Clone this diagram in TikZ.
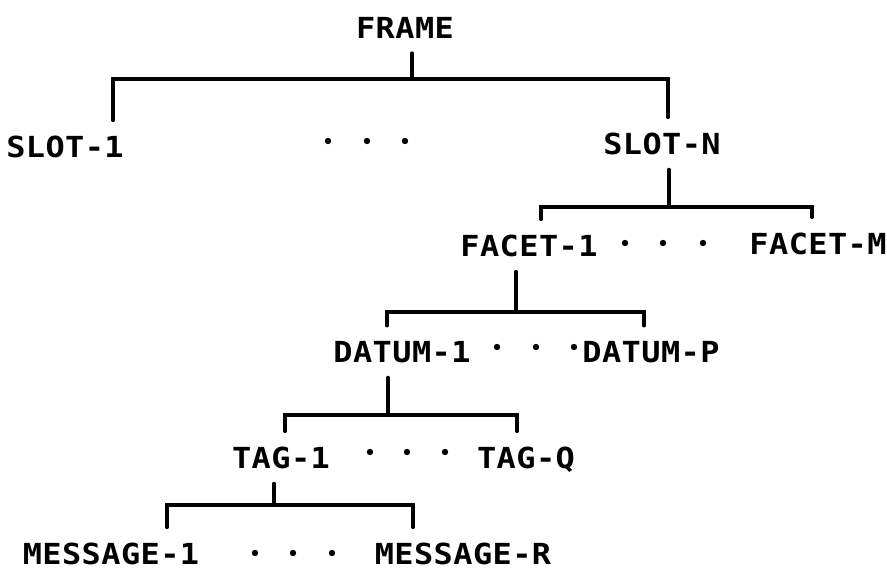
\documentclass[tikz,border=0pt]{standalone}
\usepackage{fontspec}
\newfontfamily\plotfont[LetterSpace=1.5,FakeStretch=1.1]{DejaVu Sans Mono}
\begin{document}
\begin{tikzpicture}[x=1pt,y=-1pt,
  lbl/.style={anchor=base,inner sep=0pt,outer sep=0pt,
    font=\plotfont\bfseries\fontsize{29}{31}\selectfont},
  link/.style={line width=3.2pt,line cap=round,line join=miter},
  ellip/.style={fill=black}]
\useasboundingbox (0,0) rectangle (887,571);

% tree labels
\node[lbl] (frame)   at (405,38)  {FRAME};
\node[lbl] (slot1)   at (65,157)  {SLOT-1};
\node[lbl] (slotn)   at (662,154) {SLOT-N};
\node[lbl] (facet1)  at (529,256) {FACET-1};
\node[lbl] (facetm)  at (818,254) {FACET-M};
\node[lbl] (datum1)  at (402,362) {DATUM-1};
\node[lbl] (datump)  at (651,362) {DATUM-P};
\node[lbl] (tag1)    at (281,468) {TAG-1};
\node[lbl] (tagq)    at (526,468) {TAG-Q};
\node[lbl] (msg1)    at (111,564) {MESSAGE-1};
\node[lbl] (msgr)    at (463,564) {MESSAGE-R};

% junctions on each bus line
\coordinate (b1) at (412,79);
\coordinate (b2) at (669,207);
\coordinate (b3) at (516,312);
\coordinate (b4) at (388,415);
\coordinate (b5) at (274,505);

% stems leave 15pt below a label, drops stop 15pt above one
\tikzset{
  below of label/.style={yshift=-15pt},
  above of label/.style={yshift=15pt}}

% FRAME -> slots
\draw[link] ([below of label,xshift=7pt]frame.south) -- (b1);
\draw[link] ([above of label,xshift=48pt]slot1.north) |- (b1)
            -| ([above of label,xshift=6pt]slotn.north);
% SLOT-N -> facets
\draw[link] ([below of label,xshift=7pt]slotn.south) -- (b2);
\draw[link] ([above of label,xshift=12pt]facet1.north) |- (b2)
            -| ([above of label,xshift=-6pt]facetm.north);
% FACET-1 -> data
\draw[link] ([below of label,xshift=-13pt]facet1.south) -- (b3);
\draw[link] ([above of label,xshift=-15pt]datum1.north) |- (b3)
            -| ([above of label,xshift=-7pt]datump.north);
% DATUM-1 -> tags
\draw[link] ([below of label,xshift=-14pt]datum1.south) -- (b4);
\draw[link] ([above of label,xshift=4pt]tag1.north) |- (b4)
            -| ([above of label,xshift=-9pt]tagq.north);
% TAG-1 -> messages
\draw[link] ([below of label,xshift=-7pt]tag1.south) -- (b5);
\draw[link] ([above of label,xshift=56pt]msg1.north) |- (b5)
            -| ([above of label,xshift=-50pt]msgr.north);

% ellipses between siblings
\foreach \x/\y in {328/141,367/141,405/141,
                   625/243,663/243,703/243,
                   497/347,536/347,574/347,
                   370/452,407/452,445/452,
                   255/553,293/553,332/553}
  \fill[ellip] (\x,\y) circle (3.2pt);
\end{tikzpicture}
\end{document}
